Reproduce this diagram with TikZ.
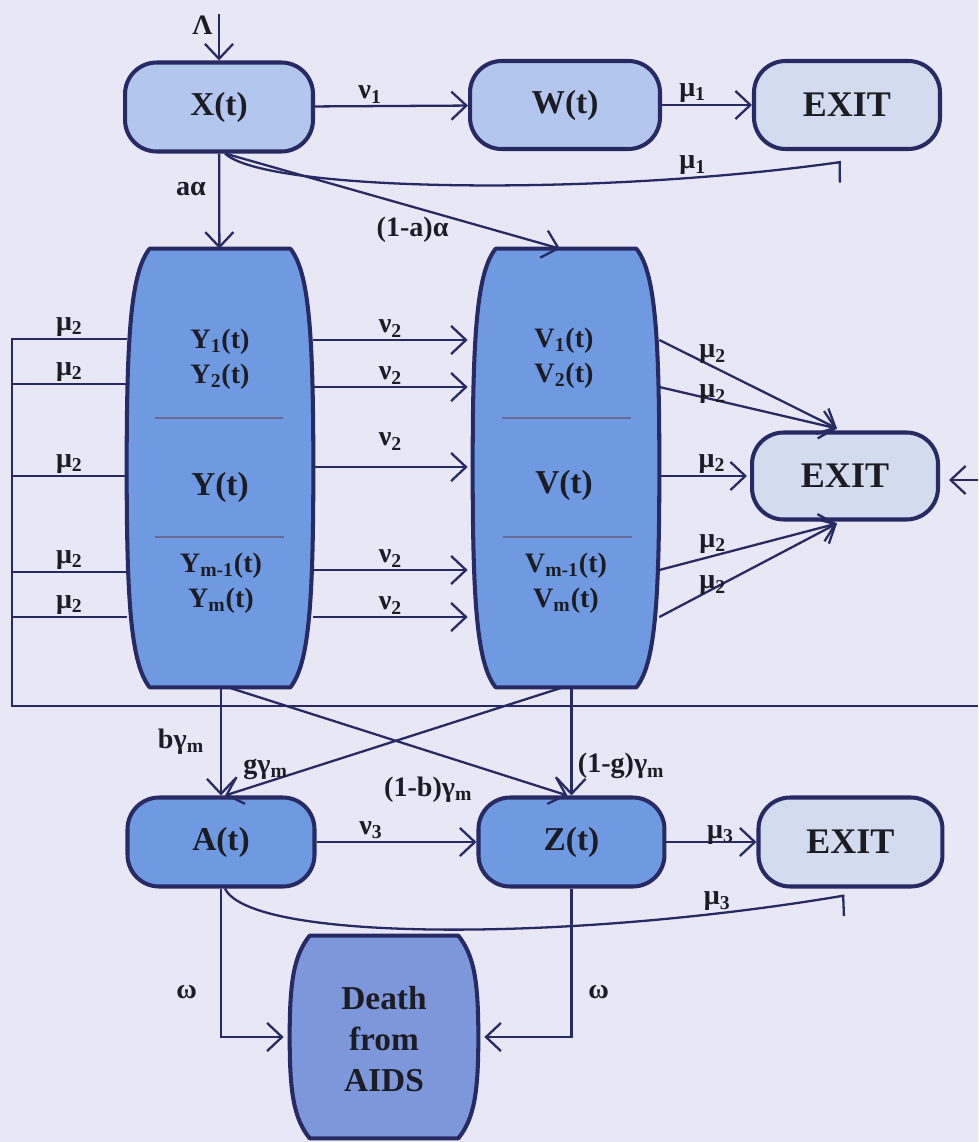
\documentclass[tikz,border=0pt]{standalone}
\usepackage{fontspec}
\setmainfont{Liberation Serif}
\usepackage{xcolor}
\usepackage{tikz}
\usetikzlibrary{arrows.meta, positioning, calc}
\definecolor{paper}{HTML}{E7E7F5}
\definecolor{edge}{HTML}{272A63}
\definecolor{ink}{HTML}{1C1C24}
\definecolor{lightfill}{HTML}{B3C7EE}
\definecolor{exitfill}{HTML}{D2DCEE}
\definecolor{blockfill}{HTML}{6F9AE2}
\definecolor{deathfill}{HTML}{7E96DA}
\tikzset{
    stagebox/.style={rectangle, rounded corners=18pt, draw=edge, line width=2.3pt,
                minimum width=3.76cm, minimum height=1.78cm, align=center,
                font=\fontsize{19}{23}\selectfont\bfseries, text=ink, fill=lightfill,
                inner sep=2pt},
    exitbox/.style={stagebox, fill=exitfill, font=\fontsize{20.5}{24}\selectfont\bfseries},
    darkbox/.style={stagebox, fill=blockfill},
    block/.style={rectangle, inner sep=0pt, minimum width=3.72cm, minimum height=8.76cm},
    blocktext/.style={align=center, text=ink, font=\fontsize{16}{20}\selectfont\bfseries},
    bigtext/.style={blocktext, font=\fontsize{19}{23.5}\selectfont\bfseries},
    blockedge/.style={draw=edge, line width=2.3pt, line join=round},
    divider/.style={draw=edge!70, line width=0.7pt},
    lbl/.style={font=\fontsize{16}{19}\selectfont\bfseries, text=ink, inner sep=1pt},
    arr/.style={-{Straight Barb[length=8.5pt, width=16pt]}, line width=1.3pt, color=edge},
    flow/.style={line width=1.3pt, color=edge},
    harp/.style={-{Straight Barb[right, length=1.5pt, width=23pt]}, line width=1.3pt, color=edge},
}
% barrel outline round an empty block node: node, corner inset, reach, fill
\newcommand{\barrel}[4]{%
  \draw[blockedge, fill=#4]
    ($(#1.north west)+(#2,0)$) -- ($(#1.north east)+(-#2,0)$)
    .. controls +(0.8*#2,#2) and +(0,-#3) .. (#1.east)
    .. controls +(0,#3) and +(0.8*#2,-#2) .. ($(#1.south east)+(-#2,0)$)
    -- ($(#1.south west)+(#2,0)$)
    .. controls +(-0.8*#2,-#2) and +(0,#3) .. (#1.west)
    .. controls +(0,-#3) and +(-0.8*#2,#2) .. cycle;
}

\begin{document}
\begin{tikzpicture}[x=0.02cm, y=-0.02cm]

  \fill[paper] (0,0) rectangle (978,1142);
  \useasboundingbox (0,0) rectangle (978,1142);

  \node[stagebox] (X) at (219,107) {X(t)};
  \node[stagebox, minimum width=3.8cm, minimum height=1.76cm] (W) at (565,105) {W(t)};
  \node[exitbox, right=1.8cm of W, minimum width=3.72cm, minimum height=1.76cm] (E1) {EXIT};

  \node[block] (Y) at (220,468) {};
  \node[block] (V) at (566,468) {};
  \barrel{Y}{23}{137}{blockfill}
  \barrel{V}{23}{137}{blockfill}
  \node[blocktext] (Ytop) at (220,359) {Y\textsubscript{1}(t)\\Y\textsubscript{2}(t)};
  \node[bigtext] (Ymid) at (220,487) {Y(t)};
  \node[blocktext] (Ybot) at (221,583) {Y\textsubscript{m-1}(t)\\Y\textsubscript{m}(t)};
  \node[blocktext] (Vtop) at (564,358) {V\textsubscript{1}(t)\\V\textsubscript{2}(t)};
  \node[bigtext] (Vmid) at (564,485) {V(t)};
  \node[blocktext] (Vbot) at (566,583) {V\textsubscript{m-1}(t)\\V\textsubscript{m}(t)};
  \draw[divider] (155,418) -- (283,418);
  \draw[divider] (155,537) -- (284,537);
  \draw[divider] (502,418) -- (631,418);
  \draw[divider] (503,537) -- (632,537);

  \node[exitbox, minimum width=3.72cm, minimum height=1.74cm] (E2) at (845,476) {EXIT};

  \node[darkbox, minimum width=3.74cm] (A) at (221,842) {A(t)};
  \node[darkbox, right=3.2cm of A, minimum width=3.72cm] (Z) {Z(t)};
  \node[exitbox, right=1.8cm of Z, minimum width=3.68cm] (E3) {EXIT};

  \node[block, minimum width=3.76cm, minimum height=4.04cm] (D) at (384,1037) {};
  \barrel{D}{20}{55}{deathfill}
  \node[bigtext] (Dtxt) at (384,1039) {Death\\from\\AIDS};

  \coordinate (src) at (219,14);
  \coordinate (loopTL) at (12,339);
  \coordinate (loopBL) at (12,706);
  \coordinate (loopBR) at (978,706);
  \coordinate (loopR) at (978,480);

  \draw[arr] (src) -- node[lbl, left=2pt, pos=0.25] {Λ} (X);
  \draw[arr] (X) -- node[lbl, above, pos=0.36] {ν\textsubscript{1}} (W);
  \draw[arr] (W) -- node[lbl, above, pos=0.34] {μ\textsubscript{1}} (E1);
  \draw[harp] ($(X.south)+(6,0)$) .. controls +(40,38) and +(-250,35) .. node[lbl, above, pos=0.81] {μ\textsubscript{1}} ($(E1.south)+(-6,11)$);
  \draw[arr] (X) -- node[lbl, left=6pt, pos=0.37] {aα} (Y);
  \draw[arr] ($(X.south)+(6,0)$) -- node[lbl, below=4pt, pos=0.56] {(1-a)α} ($(V.north)+(-6,0)$);

  \draw[arr] ($(Y.east)+(0,-128)$) -- node[lbl, above] {ν\textsubscript{2}} ($(V.west)+(-5,-128)$);
  \draw[arr] ($(Y.east)+(0,-81)$) -- node[lbl, above] {ν\textsubscript{2}} ($(V.west)+(-5,-81)$);
  \draw[arr] ($(Y.east)+(0,-1)$) -- node[lbl, above=8pt] {ν\textsubscript{2}} ($(V.west)+(-5,-1)$);
  \draw[arr] ($(Y.east)+(0,102)$) -- node[lbl, above] {ν\textsubscript{2}} ($(V.west)+(-5,102)$);
  \draw[arr] ($(Y.east)+(0,149)$) -- node[lbl, above] {ν\textsubscript{2}} ($(V.west)+(-5,149)$);

  \draw[flow] ($(Y.west)+(0,-129)$) -- node[lbl, above] {μ\textsubscript{2}} (loopTL) -- (loopBL) -- (loopBR);
  \draw[flow] ($(Y.west)+(0,-84)$) -| node[lbl, above, pos=0.25] {μ\textsubscript{2}} (loopTL);
  \draw[flow] ($(Y.west)+(0,8)$) -| node[lbl, above, pos=0.25] {μ\textsubscript{2}} (loopTL);
  \draw[flow] ($(Y.west)+(0,104)$) -| node[lbl, above, pos=0.25] {μ\textsubscript{2}} (loopTL);
  \draw[flow] ($(Y.west)+(0,149)$) -| node[lbl, above, pos=0.25] {μ\textsubscript{2}} (loopTL);
  \draw[arr] (loopR) -- ($(E2.east)+(9,4)$);

  \draw[arr] ($(V.east)+(0,-128)$) -- node[lbl, above, pos=0.3] {μ\textsubscript{2}} ($(E2.north)+(-8,-2)$);
  \draw[arr] ($(V.east)+(0,-81)$) -- node[lbl, above=-4pt, pos=0.3] {μ\textsubscript{2}} ($(E2.north)+(-8,-2)$);
  \draw[arr] (V.east |- E2.west) -- node[lbl, above, pos=0.6] {μ\textsubscript{2}} ($(E2.west)+(-3,0)$);
  \draw[arr] ($(V.east)+(0,102)$) -- node[lbl, above, pos=0.3] {μ\textsubscript{2}} ($(E2.south)+(-8,2)$);
  \draw[arr] ($(V.east)+(0,149)$) -- node[lbl, above=-5pt, pos=0.3] {μ\textsubscript{2}} ($(E2.south)+(-8,2)$);

  \draw[arr] (A.north |- Y.south) -- node[lbl, left=8pt] {bγ\textsubscript{m}} (A.north);
  \draw[arr] ($(Y.south)+(8,0)$) -- node[lbl, below=13pt, pos=0.59] {(1-b)γ\textsubscript{m}} ($(Z.north)+(-4,0)$);
  \draw[arr] ($(V.south)+(-3,0)$) -- node[lbl, above, pos=0.88] {gγ\textsubscript{m}} ($(A.north)+(4,0)$);
  \draw[arr] (Z.north |- V.south) -- node[lbl, right=2pt, pos=0.73] {(1-g)γ\textsubscript{m}} (Z.north);

  \draw[arr] (A) -- node[lbl, above, pos=0.34] {ν\textsubscript{3}} (Z);
  \draw[arr] (Z) -- node[lbl, above=-3pt, pos=0.6] {μ\textsubscript{3}} (E3);
  \draw[harp] ($(A.south)+(4,0)$) .. controls +(25,53) and +(-280,47) .. node[lbl, above, pos=0.85] {μ\textsubscript{3}} ($(E3.south)+(-6,7)$);

  \draw[arr] (A.south) |- node[lbl, left=12pt, pos=0.35] {ω} ($(D.west)+(-6,0)$);
  \draw[arr] (Z.south) |- node[lbl, right=8pt, pos=0.35] {ω} ($(D.east)+(6,0)$);

\end{tikzpicture}
\end{document}
